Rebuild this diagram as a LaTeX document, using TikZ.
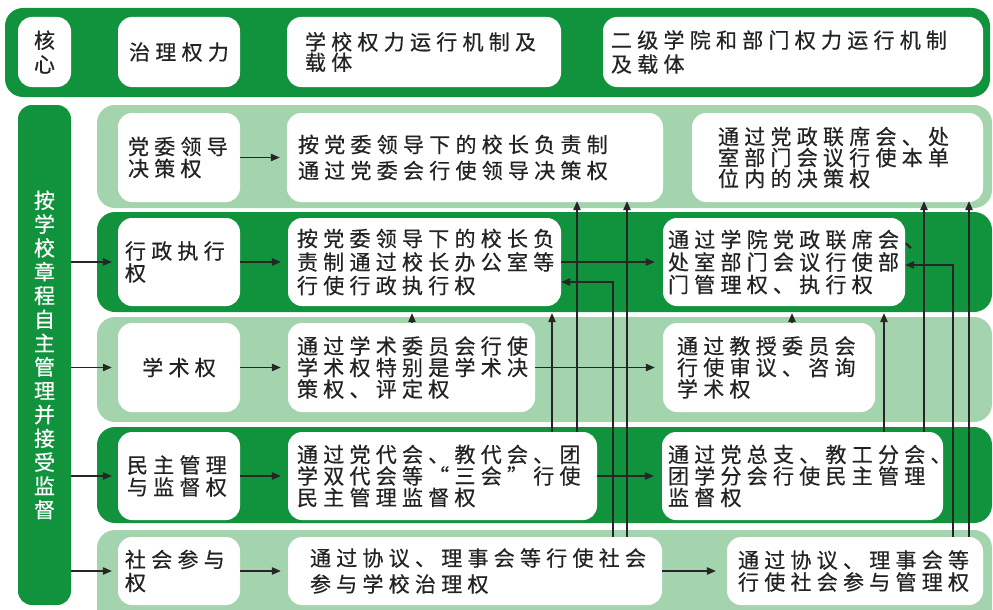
\documentclass[tikz,border=0pt]{standalone}
\usepackage{fontspec}
\newfontfamily\cjk[LetterSpace=25,FakeBold=0.5]{Noto Sans CJK SC}
\newfontfamily\cjkv[FakeBold=0.5]{Noto Sans CJK SC}
\usetikzlibrary{arrows.meta,calc}
\definecolor{dkg}{RGB}{17,146,60}
\definecolor{ltg}{RGB}{164,212,174}
\definecolor{txt}{RGB}{35,35,35}
\newcommand\bxnode[8][]{%
  \pgfmathsetmacro\bxtw{#5-#3-2*#7}%
  \pgfmathsetmacro\bxh{#6-#4}%
  \node[bx, inner xsep=#7pt, text width=\bxtw pt, minimum height=\bxh pt, #1] (#2) at ({(#3+#5)/2},{(#4+#6)/2}) {#8};}
\begin{document}
\begin{tikzpicture}[x=1pt,y=-1pt,
  bx/.style={fill=white, rounded corners=14pt, draw=none, inner ysep=0pt, align=left, text=txt,
    font=\cjk\fontsize{21}{22}\selectfont},
  bs/.style={font=\cjk\fontsize{21}{#1}\selectfont},
  arr/.style={draw=black!85, line width=1.1pt, -{Triangle[length=9pt,width=7.5pt]}},
]
\useasboundingbox (0,0) rectangle (993,610);
\clip (0,0) rectangle (993,610);
% bands
\fill[dkg, rounded corners=18pt] (5,8) rectangle (990,97);
\fill[ltg, rounded corners=18pt] (97,105) rectangle (992,208);
\fill[dkg, rounded corners=18pt] (97,212) rectangle (992,312);
\fill[ltg, rounded corners=18pt] (97,317) rectangle (992,422);
\fill[dkg, rounded corners=18pt] (97,427) rectangle (992,523);
\fill[ltg, rounded corners=18pt] (97,530) rectangle (992,640);
% left bar
\node[fill=dkg, rounded corners=14pt, minimum width=53pt, minimum height=500pt, inner sep=0pt,
  text=white, align=center, font=\cjkv\fontsize{21}{23.8}\selectfont] (bar) at (44.5,355)
  {按\\学\\校\\章\\程\\自\\主\\管\\理\\并\\接\\受\\监\\督};
% header
\bxnode[align=center, font=\cjkv\fontsize{21}{24}\selectfont]{h1}{18}{17}{71}{87}{0}{核\\心}
\bxnode[align=center]{h2}{118}{17}{240}{87}{0}{治理权力}
\bxnode[bs=19]{h3}{287}{17}{561}{87}{18}{学校权力运行机制及\\载体}
\bxnode[bs=24]{h4}{603}{17}{983}{87}{8}{二级学院和部门权力运行机制\\及载体}
% row 1
\bxnode{L1}{118}{113}{240}{202}{10}{党委领导\\决策权}
\bxnode[bs=26]{M1}{287}{113}{663}{202}{11}{按党委领导下的校长负责制\\通过党委会行使领导决策权}
\bxnode[bs=21]{R1}{692}{113}{983}{202}{26}{通过党政联席会、处\\室部门会议行使本单\\位内的决策权}
% row 2
\bxnode{L2}{118}{218}{240}{306}{7}{行政执行\\权}
\bxnode[bs=23.5]{M2}{288}{218}{561}{306}{9}{按党委领导下的校长负\\责制通过校长办公室等\\行使行政执行权}
\bxnode[bs=22.5]{R2}{663}{218}{905}{306}{5}{通过学院党政联席会、\\处室部门会议行使部\\门管理权、执行权}
% row 3
\bxnode[align=center]{L3}{118}{323}{240}{412}{0}{学术权}
\bxnode[bs=21.5]{M3}{288}{323}{535}{412}{9}{通过学术委员会行使\\学术权特别是学术决\\策权、评定权}
\bxnode[bs=21.5]{R3}{663}{323}{875}{412}{14}{通过教授委员会\\行使审议、咨询\\学术权}
% row 4
\bxnode{L4}{118}{432}{240}{520}{9}{民主管理\\与监督权}
\bxnode[bs=21.5]{M4}{288}{432}{597}{520}{9}{通过党代会、教代会、团\\学双代会等“三会”行使\\民主管理监督权}
\bxnode[bs=21.5]{R4}{662}{432}{943}{520}{6}{通过党总支、教工分会、\\团学分会行使民主管理\\监督权}
% row 5
\bxnode[bs=23]{L5}{118}{537}{240}{605}{7}{社会参与\\权}
\bxnode[bs=26]{M5}{288}{537}{662}{605}{22}{通过协议、理事会等行使社会\\参与学校治理权}
\bxnode{R5}{727}{537}{983}{605}{11}{通过协议、理事会等\\行使社会参与管理权}
% helper coordinates
\coordinate (v412) at (412,0);
\coordinate (v552) at (552,0);
\coordinate (v577) at (577,0);
\coordinate (v613) at (613,0);
\coordinate (v627) at (627,0);
\coordinate (v792) at (792,0);
\coordinate (v884) at (884,0);
\coordinate (v924) at (924,0);
\coordinate (v953) at (953,0);
\coordinate (v969) at (969,0);
\coordinate (h282) at (0,282);
\coordinate (h265) at (0,265);
% bar -> left boxes
\foreach \r in {2,3,4,5}{\draw[arr, shorten >=6pt] (bar.east |- L\r.west) -- (L\r.west);}
% left -> middle
\foreach \r in {1,2,3,4,5}{\draw[arr, shorten >=7pt] (L\r.east) -- (M\r.west);}
% middle -> right
\foreach \r in {2,3,4}{\draw[arr, shorten >=8pt] (M\r.east) -- (R\r.west);}
\draw[arr, shorten >=11pt] (M5.east) -- (R5.west);
% vertical arrows
\draw[arr, shorten >=7pt] (M3.north -| v412) -- (M2.south -| v412);
\draw[arr, shorten >=7pt] (M4.north -| v552) -- (M2.south -| v552);
\draw[arr, shorten >=-1pt] (M4.north -| v577) -- (M1.south -| v577);
\draw[arr] (M5.north -| v613) |- (M2.east |- h282);
\draw[arr, shorten >=-1pt] (M5.north -| v627) -- (M1.south -| v627);
\draw[arr, shorten >=7pt] (R3.north -| v792) -- (R2.south -| v792);
\draw[arr, shorten >=7pt] (R4.north -| v884) -- (R2.south -| v884);
\draw[arr, shorten >=-1pt] (R4.north -| v924) -- (R1.south -| v924);
\draw[arr] (R5.north -| v953) |- (R2.east |- h265);
\draw[arr, shorten >=-1pt] (R5.north -| v969) -- (R1.south -| v969);
\end{tikzpicture}
\end{document}
